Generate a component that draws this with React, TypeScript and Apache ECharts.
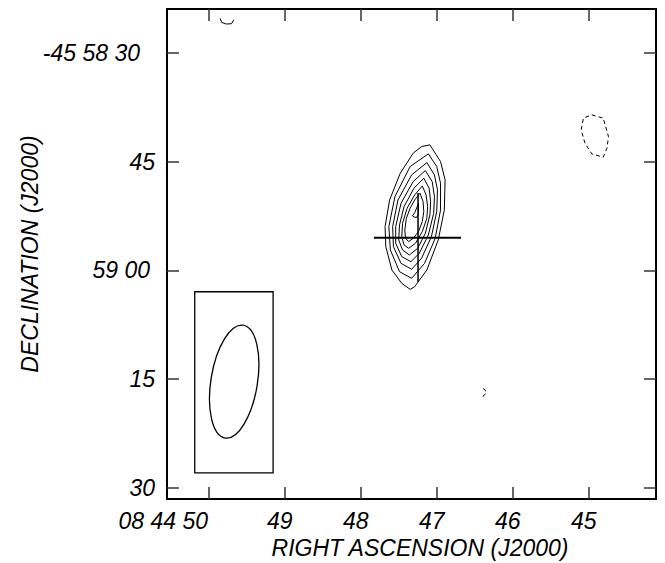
import React, { useEffect, useRef } from 'react';
import * as echarts from 'echarts';

// Axis ticks (RA in seconds of 08h44m, Dec in arcsec below -45d58m00s)
const raTicks = [45, 46, 47, 48, 49, 50];
const raTickLabels = ['45', '46', '47', '48', '49', '08 44 50'];
const decTicks = [30, 45, 60, 75, 90];
const decTickLabels = ['-45 58 30', '45', '59 00', '15', '30'];
const raRange = [44.115, 50.549];
const decRange = [23.97, 91.52];

// Positive contours of the source (closed loops), [RA s, Dec "]
const contour1 = [[47.09, 42.70], [46.95, 45.00], [46.89, 47.53], [46.90, 51.67], [46.98, 55.81], [47.13, 59.95], [47.29, 62.25], [47.35, 62.62], [47.46, 61.79], [47.59, 59.95], [47.67, 56.73], [47.68, 53.97], [47.62, 50.29], [47.48, 46.61], [47.31, 43.85], [47.20, 42.93]];
const contour2 = [[47.11, 43.94], [47.00, 45.69], [46.95, 47.99], [46.95, 51.67], [47.02, 55.58], [47.16, 59.03], [47.33, 61.10], [47.49, 60.18], [47.61, 57.19], [47.63, 53.97], [47.55, 49.83], [47.35, 45.69]];
const contour3 = [[47.13, 45.14], [47.03, 46.84], [46.99, 48.91], [47.00, 51.90], [47.07, 55.35], [47.20, 58.34], [47.33, 59.86], [47.47, 59.03], [47.57, 56.73], [47.58, 53.97], [47.51, 50.29], [47.33, 46.84]];
const contour4 = [[47.15, 46.24], [47.06, 47.76], [47.03, 49.83], [47.04, 52.13], [47.11, 55.12], [47.23, 57.65], [47.34, 58.80], [47.46, 58.11], [47.54, 56.27], [47.54, 53.97], [47.47, 50.75], [47.31, 47.76]];
const contour5 = [[47.17, 47.30], [47.10, 48.68], [47.08, 50.52], [47.09, 52.36], [47.15, 54.89], [47.25, 56.96], [47.36, 57.88], [47.45, 57.19], [47.50, 55.81], [47.49, 53.74], [47.43, 51.21], [47.30, 48.68]];
const contour6 = [[47.19, 48.36], [47.14, 49.60], [47.12, 51.21], [47.13, 52.82], [47.19, 54.66], [47.28, 56.27], [47.37, 56.96], [47.43, 56.50], [47.46, 55.35], [47.45, 53.51], [47.39, 51.44], [47.29, 49.60]];
const contour7 = [[47.22, 49.37], [47.18, 50.52], [47.17, 51.90], [47.19, 53.28], [47.24, 54.66], [47.31, 55.58], [47.37, 56.04], [47.41, 55.58], [47.42, 54.43], [47.40, 52.82], [47.35, 51.44], [47.29, 50.29]];
const contourPeak = [[47.24, 50.75], [47.26, 51.30], [47.29, 52.04], [47.32, 52.50], [47.29, 52.68], [47.26, 52.68], [47.24, 52.13]];

// Small positive fragment at top-left edge (open)
const fragmentTop = [[49.85, 25.27], [49.83, 25.82], [49.77, 26.04], [49.70, 26.00], [49.67, 25.45]];

// Negative (dashed) contours
const negContourRight = [[44.96, 38.56], [44.81, 39.01], [44.74, 41.55], [44.76, 43.15], [44.81, 44.40], [44.96, 43.94], [45.05, 42.46], [45.10, 40.63], [45.07, 39.01]];
const negFragment = [[46.39, 76.3], [46.36, 76.5], [46.35, 77.0], [46.38, 77.2], [46.39, 77.4], [46.39, 77.7]];

// Position marker cross
const crossH = [[47.826, 55.49], [46.68, 55.49]];
const crossV = [[47.246, 49.32], [47.246, 61.61]];

// Beam: box corners, centre, semi-axes (arcsec), tilt (deg)
const beamBox = [[50.184, 62.95], [49.153, 87.93]];
const beamCenter = [49.665, 75.34];
const beamSemiMajor = 7.88;
const beamSemiMinor = 3.21;
const beamTilt = 9.1;

const FONT = '"Liberation Sans", Arial, Helvetica, sans-serif';

const closed = (c: number[][]) => [...c, c[0]];

export default function App() {
  const ref = useRef<HTMLDivElement>(null);
  useEffect(() => {
    if (!ref.current) return;
    const chart = echarts.init(ref.current, undefined, { renderer: 'svg' });

    const labelBase = { fontFamily: FONT, fontStyle: 'italic', fontSize: 23, color: '#000' };

    const lineSeries = (data: number[][], dashed = false, width = 1) => ({
      type: 'line',
      data,
      showSymbol: false,
      symbol: 'none',
      silent: true,
      clip: true,
      lineStyle: { color: '#000', width, type: dashed ? [4, 3] : 'solid' },
    });

    const tickStyle = { show: true, inside: true, length: 12, lineStyle: { color: '#333', width: 1.5 } };
    const frameLine = { show: true, onZero: false, lineStyle: { color: '#000', width: 2 } };

    const option: any = {
      animation: false,
      grid: { left: 167, top: 9, right: 9, bottom: 64, containLabel: false, outerBoundsMode: 'none' },
      xAxis: [
        {
          type: 'value', position: 'bottom', inverse: true, min: raRange[0], max: raRange[1],
          splitLine: { show: false }, axisLine: frameLine,
          axisTick: { ...tickStyle, customValues: raTicks },
          axisLabel: {
            ...labelBase, margin: 10, showMinLabel: true, showMaxLabel: true,
            customValues: raTicks,
            formatter: (v: number) => {
              const i = raTicks.indexOf(Math.round(v));
              const t = raTickLabels[i] ?? '';
              return i === raTicks.length - 1 ? `{f|${t}}` : `{n|${t}}`;
            },
            rich: {
              f: { ...labelBase, padding: [0, 91, 0, 0] },
              n: { ...labelBase, padding: [0, 10, 0, 0] },
            },
          },
          name: 'RIGHT ASCENSION (J2000)', nameLocation: 'middle', nameGap: 35,
          nameTextStyle: { ...labelBase, padding: [0, 0, 0, 17] },
        },
        {
          type: 'value', position: 'top', inverse: true, min: raRange[0], max: raRange[1],
          splitLine: { show: false }, axisLine: frameLine,
          axisTick: { ...tickStyle, customValues: raTicks },
          axisLabel: { show: false },
        },
      ],
      yAxis: [
        {
          type: 'value', position: 'left', inverse: true, min: decRange[0], max: decRange[1],
          splitLine: { show: false }, axisLine: frameLine,
          axisTick: { ...tickStyle, customValues: decTicks },
          axisLabel: {
            ...labelBase, margin: 12, showMinLabel: true, showMaxLabel: true,
            customValues: decTicks,
            formatter: (v: number) => {
              const i = decTicks.indexOf(Math.round(v));
              const t = decTickLabels[i] ?? '';
              const key = i === 0 ? 'a' : i === 2 ? 'b' : 'c';
              return `{${key}|${t}}`;
            },
            rich: {
              a: { ...labelBase, padding: [0, 15, 0, 0] },
              b: { ...labelBase, padding: [0, 5, 0, 0] },
              c: { ...labelBase },
            },
          },
          name: 'DECLINATION (J2000)', nameLocation: 'middle', nameGap: 126, nameRotate: 90,
          nameMoveOverlap: false,
          nameTextStyle: { ...labelBase },
        },
        {
          type: 'value', position: 'right', inverse: true, min: decRange[0], max: decRange[1],
          splitLine: { show: false }, axisLine: frameLine,
          axisTick: { ...tickStyle, customValues: decTicks },
          axisLabel: { show: false },
        },
      ],
      series: [
        lineSeries(closed(contour1)),
        lineSeries(closed(contour2)),
        lineSeries(closed(contour3)),
        lineSeries(closed(contour4)),
        lineSeries(closed(contour5)),
        lineSeries(closed(contour6)),
        lineSeries(closed(contour7)),
        lineSeries(closed(contourPeak)),
        lineSeries(fragmentTop),
        lineSeries(closed(negContourRight), true),
        lineSeries(negFragment, true),
        lineSeries(crossH, false, 2),
        lineSeries(crossV, false, 1.5),
        {
          type: 'custom',
          silent: true,
          data: [beamCenter],
          renderItem: (params: any, api: any) => {
            const c = api.coord([api.value(0), api.value(1)]);
            const p0 = api.coord(beamBox[0]);
            const p1 = api.coord(beamBox[1]);
            const pxPerArcsec = Math.abs(api.coord([beamCenter[0], beamCenter[1] + 1])[1] - c[1]);
            return {
              type: 'group',
              children: [
                {
                  type: 'rect',
                  shape: { x: Math.min(p0[0], p1[0]), y: Math.min(p0[1], p1[1]), width: Math.abs(p1[0] - p0[0]), height: Math.abs(p1[1] - p0[1]) },
                  style: { fill: 'none', stroke: '#000', lineWidth: 1.3 },
                },
                {
                  type: 'ellipse',
                  x: c[0], y: c[1],
                  rotation: -beamTilt * Math.PI / 180,
                  shape: { cx: 0, cy: 0, rx: beamSemiMinor * pxPerArcsec, ry: beamSemiMajor * pxPerArcsec },
                  style: { fill: 'none', stroke: '#000', lineWidth: 1.3 },
                },
              ],
            };
          },
        },
      ],
    };
    chart.setOption(option);
    return () => chart.dispose();
  }, []);
  return <div ref={ref} style={{ width: 665, height: 563, position: 'absolute', left: 0, top: 0, background: '#fff' }} />;
}
